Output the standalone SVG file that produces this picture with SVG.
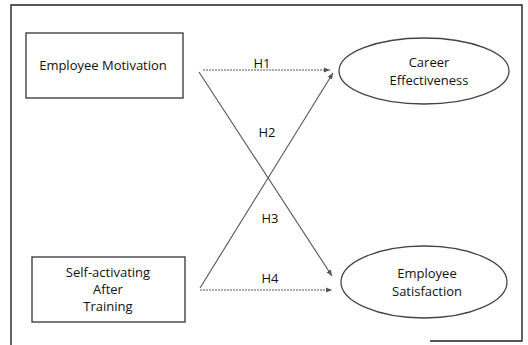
<svg xmlns="http://www.w3.org/2000/svg" width="528" height="345" viewBox="0 0 528 345">
<style>
.frame{fill:none;stroke:#222;stroke-width:1.4}
.box{fill:#fff;stroke:#333;stroke-width:1.3}
.ell{fill:#fff;stroke:#444;stroke-width:1.3}
.t{font-family:"Open Sans","Noto Sans",sans-serif;font-size:13px;fill:#111;text-anchor:middle}
.c{fill:none;stroke:#555;stroke-width:1.1;stroke-dasharray:2 1}
.d{fill:none;stroke:#555;stroke-width:1.1}
</style>
<defs>
<marker id="ah" viewBox="0 0 8 8" refX="7" refY="4" markerWidth="7" markerHeight="7" orient="auto" markerUnits="userSpaceOnUse">
<path d="M0,1 L7,4 L0,7 Z" fill="#555"/>
</marker>
</defs>
<rect width="528" height="345" fill="#fff"/>
<path class="frame" d="M11,345 V5 H522 V341 H430"/>
<g id="connectors">
<line class="c" x1="203" y1="70" x2="330" y2="70" marker-end="url(#ah)"/>
<line class="d" x1="199" y1="72" x2="332" y2="276" marker-end="url(#ah)"/>
<line class="d" x1="200" y1="288" x2="333" y2="73" marker-end="url(#ah)"/>
<line class="c" x1="200" y1="290" x2="332" y2="290" marker-end="url(#ah)"/>
<text class="t" x="262" y="68">H1</text>
<text class="t" x="267" y="137">H2</text>
<text class="t" x="270" y="223">H3</text>
<text class="t" x="270" y="283">H4</text>
</g>
<g id="employee-motivation">
<rect class="box" x="26" y="33" width="157" height="65"/>
<text class="t" x="103" y="70">Employee Motivation</text>
</g>
<g id="self-activating">
<rect class="box" x="32" y="257" width="153" height="65"/>
<text class="t" x="108" y="277">Self-activating</text>
<text class="t" x="108" y="294">After</text>
<text class="t" x="108" y="311">Training</text>
</g>
<g id="career-effectiveness">
<ellipse class="ell" cx="424" cy="71" rx="85" ry="33"/>
<text class="t" x="429" y="67">Career</text>
<text class="t" x="429" y="85">Effectiveness</text>
</g>
<g id="employee-satisfaction">
<ellipse class="ell" cx="424" cy="282" rx="83" ry="36"/>
<text class="t" x="427" y="278">Employee</text>
<text class="t" x="427" y="296">Satisfaction</text>
</g>
</svg>
